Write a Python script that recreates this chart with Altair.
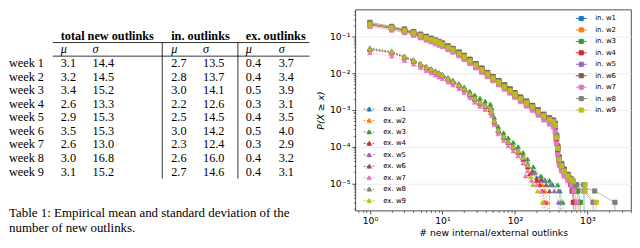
import altair as alt
import pandas as pd

# ---------------- Table 1 values ----------------
weeks = ["week 1", "week 2", "week 3", "week 4", "week 5", "week 6", "week 7", "week 8", "week 9"]
total_mu = [3.1, 3.2, 3.4, 2.6, 2.9, 3.5, 2.6, 3.0, 3.1]
total_sd = [14.4, 14.5, 15.2, 13.3, 15.3, 15.3, 13.0, 16.8, 15.2]
in_mu = [2.7, 2.8, 3.0, 2.2, 2.5, 3.0, 2.3, 2.6, 2.7]
in_sd = [13.5, 13.7, 14.1, 12.6, 14.5, 14.2, 12.4, 16.0, 14.6]
ex_mu = [0.4, 0.4, 0.5, 0.3, 0.4, 0.5, 0.3, 0.4, 0.4]
ex_sd = [3.7, 3.4, 3.9, 3.1, 3.5, 4.0, 2.9, 3.2, 3.1]
group_headers = ["total new outlinks", "in. outlinks", "ex. outlinks"]
caption = ["Table 1: Empirical mean and standard deviation of the",
           "number of new outlinks."]

# ---------------- CCDF curves (log10 of P(X >= x)) ----------------
week_keys = ["w1", "w2", "w3", "w4", "w5", "w6", "w7", "w8", "w9"]
in_x = [1, 2, 3, 4, 5, 6, 7, 8, 9, 10, 12, 14, 17, 20, 24, 29, 35, 42, 50, 60, 72, 86, 100,
        120, 145, 175, 210, 250, 300, 340, 360, 375, 390, 410, 440, 480, 540]
in_log10p = {
    "w1": [-0.65, -0.75, -0.83, -0.90, -0.96, -1.02, -1.07, -1.12, -1.16, -1.20, -1.28, -1.35, -1.45, -1.55, -1.65, -1.77, -1.89, -2.01, -2.12, -2.23, -2.35, -2.46, -2.56, -2.68, -2.79, -2.91, -3.03, -3.15, -3.25, -3.31, -3.40, -3.72, -4.02, -4.32, -4.50, -4.66, -4.80],
    "w2": [-0.66, -0.77, -0.84, -0.91, -0.98, -1.04, -1.09, -1.13, -1.17, -1.22, -1.30, -1.37, -1.47, -1.56, -1.67, -1.79, -1.91, -2.03, -2.14, -2.25, -2.37, -2.48, -2.58, -2.70, -2.81, -2.93, -3.05, -3.17, -3.27, -3.33, -3.44, -3.78, -4.08, -4.38, -4.55, -4.70, -4.82],
    "w3": [-0.66, -0.76, -0.82, -0.89, -0.96, -1.02, -1.07, -1.11, -1.15, -1.19, -1.27, -1.34, -1.43, -1.52, -1.62, -1.74, -1.86, -1.98, -2.09, -2.20, -2.32, -2.43, -2.53, -2.65, -2.76, -2.88, -3.00, -3.12, -3.22, -3.28, -3.38, -3.70, -4.00, -4.30, -4.48, -4.62, -4.76],
    "w4": [-0.68, -0.78, -0.85, -0.92, -0.99, -1.05, -1.10, -1.15, -1.19, -1.24, -1.32, -1.39, -1.49, -1.59, -1.70, -1.82, -1.94, -2.06, -2.17, -2.28, -2.40, -2.51, -2.61, -2.73, -2.84, -2.96, -3.08, -3.20, -3.30, -3.36, -3.48, -3.82, -4.12, -4.40, -4.58, -4.72, -4.85],
    "w5": [-0.66, -0.76, -0.84, -0.91, -0.97, -1.04, -1.09, -1.13, -1.17, -1.21, -1.30, -1.37, -1.46, -1.56, -1.67, -1.79, -1.91, -2.03, -2.14, -2.25, -2.37, -2.48, -2.58, -2.70, -2.81, -2.93, -3.05, -3.17, -3.27, -3.33, -3.43, -3.76, -4.06, -4.36, -4.53, -4.68, -4.81],
    "w6": [-0.61, -0.72, -0.79, -0.86, -0.93, -0.99, -1.04, -1.09, -1.13, -1.17, -1.25, -1.32, -1.42, -1.51, -1.62, -1.74, -1.86, -1.98, -2.09, -2.20, -2.32, -2.43, -2.53, -2.65, -2.76, -2.88, -3.00, -3.12, -3.22, -3.28, -3.37, -3.68, -3.98, -4.28, -4.46, -4.62, -4.76],
    "w7": [-0.72, -0.82, -0.89, -0.96, -1.03, -1.09, -1.14, -1.19, -1.23, -1.27, -1.35, -1.42, -1.52, -1.62, -1.73, -1.85, -1.97, -2.09, -2.20, -2.31, -2.43, -2.54, -2.65, -2.77, -2.89, -3.01, -3.14, -3.27, -3.38, -3.46, -3.60, -3.92, -4.22, -4.50, -4.66, -4.80, -4.92],
    "w8": [-0.65, -0.75, -0.82, -0.89, -0.96, -1.02, -1.07, -1.11, -1.15, -1.20, -1.28, -1.35, -1.45, -1.54, -1.65, -1.77, -1.89, -2.01, -2.12, -2.23, -2.35, -2.46, -2.56, -2.68, -2.79, -2.91, -3.03, -3.15, -3.25, -3.31, -3.41, -3.73, -4.03, -4.33, -4.50, -4.65, -4.78],
    "w9": [-0.66, -0.76, -0.83, -0.90, -0.97, -1.03, -1.08, -1.12, -1.16, -1.21, -1.29, -1.36, -1.46, -1.55, -1.66, -1.78, -1.90, -2.02, -2.13, -2.24, -2.36, -2.47, -2.57, -2.69, -2.80, -2.92, -3.04, -3.16, -3.26, -3.32, -3.42, -3.75, -4.05, -4.35, -4.52, -4.67, -4.80],
}
# sparse tails (x, log10 P); -9 marks the final drop to zero (off the bottom of the axis)
in_tail = {
    "w1": [(620, -4.92), (700, -5.04), (900, -5.04), (900, -9)],
    "w2": [(600, -4.92), (640, -5.04), (700, -5.21), (760, -5.52), (760, -9)],
    "w3": [(600, -4.88), (680, -5.04), (740, -5.21), (800, -5.52), (800, -9)],
    "w4": [(580, -4.95), (600, -5.04), (620, -5.21), (640, -5.52), (640, -9)],
    "w5": [(620, -4.92), (700, -5.04), (900, -5.21), (1200, -5.52), (1200, -9)],
    "w6": [(560, -4.85), (590, -5.04), (620, -5.21), (680, -5.52), (680, -9)],
    "w7": [(600, -5.04), (650, -5.21), (720, -5.52), (720, -9)],
    "w8": [(600, -4.90), (640, -4.95), (700, -5.04), (1260, -5.21), (2400, -5.52), (2400, -9)],
    "w9": [(600, -4.90), (640, -4.95), (930, -5.04), (930, -5.21), (1320, -5.52), (1320, -9)],
}
ex_x = [1, 2, 3, 4, 5, 6, 7, 8, 9, 10, 12, 14, 17, 20, 24, 28, 33, 39, 46, 48, 52, 59, 70, 81,
        95, 111, 130, 150]
ex_log10p = {
    "w1": [-1.33, -1.42, -1.55, -1.65, -1.75, -1.83, -1.89, -1.95, -2.00, -2.05, -2.14, -2.22, -2.32, -2.42, -2.56, -2.68, -2.79, -2.88, -2.96, -3.05, -3.30, -3.55, -3.72, -3.87, -4.00, -4.12, -4.30, -4.50],
    "w2": [-1.34, -1.43, -1.56, -1.66, -1.76, -1.84, -1.90, -1.96, -2.01, -2.06, -2.15, -2.23, -2.33, -2.43, -2.57, -2.69, -2.80, -2.89, -2.97, -3.06, -3.31, -3.56, -3.73, -3.88, -4.01, -4.13, -4.31, -4.52],
    "w3": [-1.33, -1.42, -1.54, -1.64, -1.74, -1.82, -1.88, -1.94, -1.99, -2.04, -2.12, -2.19, -2.28, -2.37, -2.49, -2.59, -2.68, -2.76, -2.84, -2.95, -3.20, -3.45, -3.62, -3.76, -3.88, -4.00, -4.16, -4.34],
    "w4": [-1.36, -1.45, -1.58, -1.68, -1.78, -1.86, -1.92, -1.98, -2.03, -2.08, -2.17, -2.25, -2.35, -2.46, -2.60, -2.72, -2.83, -2.92, -3.00, -3.09, -3.34, -3.58, -3.75, -3.90, -4.03, -4.16, -4.35, -4.56],
    "w5": [-1.34, -1.43, -1.56, -1.66, -1.76, -1.84, -1.90, -1.96, -2.01, -2.06, -2.15, -2.23, -2.33, -2.43, -2.57, -2.69, -2.80, -2.89, -2.97, -3.06, -3.31, -3.56, -3.73, -3.88, -4.01, -4.13, -4.31, -4.51],
    "w6": [-1.31, -1.40, -1.53, -1.63, -1.73, -1.81, -1.87, -1.93, -1.98, -2.03, -2.12, -2.20, -2.30, -2.40, -2.54, -2.66, -2.77, -2.86, -2.94, -3.03, -3.28, -3.53, -3.70, -3.85, -3.98, -4.10, -4.27, -4.46],
    "w7": [-1.44, -1.53, -1.65, -1.75, -1.85, -1.93, -1.99, -2.05, -2.10, -2.15, -2.24, -2.32, -2.42, -2.53, -2.67, -2.79, -2.90, -2.99, -3.07, -3.16, -3.40, -3.65, -3.83, -3.98, -4.12, -4.25, -4.45, -4.66],
    "w8": [-1.32, -1.41, -1.54, -1.64, -1.74, -1.82, -1.88, -1.94, -1.99, -2.04, -2.13, -2.21, -2.31, -2.41, -2.55, -2.67, -2.78, -2.87, -2.95, -3.04, -3.29, -3.54, -3.71, -3.86, -3.99, -4.11, -4.29, -4.48],
    "w9": [-1.33, -1.42, -1.55, -1.65, -1.75, -1.83, -1.89, -1.95, -2.00, -2.05, -2.14, -2.22, -2.32, -2.42, -2.56, -2.68, -2.79, -2.88, -2.96, -3.05, -3.30, -3.55, -3.72, -3.87, -4.00, -4.12, -4.30, -4.50],
}
ex_tail = {
    "w1": [(175, -4.70), (200, -4.85), (260, -4.92), (330, -5.04), (420, -5.21), (420, -9)],
    "w2": [(170, -4.72), (210, -4.92), (240, -5.04), (260, -5.21), (280, -5.52), (280, -9)],
    "w3": [(180, -4.55), (230, -4.80), (300, -4.92), (390, -5.04), (460, -5.52), (460, -9)],
    "w4": [(160, -4.75), (200, -4.92), (220, -5.04), (240, -5.21), (260, -5.52), (260, -9)],
    "w5": [(180, -4.72), (240, -4.92), (310, -5.04), (350, -5.21), (400, -5.52), (400, -9)],
    "w6": [(175, -4.66), (230, -4.90), (270, -5.04), (300, -5.21), (300, -9)],
    "w7": [(140, -4.80), (170, -4.92), (200, -5.04), (230, -5.21), (250, -5.52), (250, -9)],
    "w8": [(190, -4.70), (260, -4.92), (310, -5.04), (400, -5.21), (430, -5.52), (430, -9)],
    "w9": [(165, -4.82), (177, -5.04), (206, -5.21), (240, -5.52), (240, -9)],
}
series_colors = ["#1f77b4", "#ff7f0e", "#2ca02c", "#d62728", "#9467bd",
                 "#8c564b", "#e377c2", "#7f7f7f", "#bcbd22"]

x_tick_values = [1, 10, 100, 1000]
x_tick_labels = ["10⁰", "10¹", "10²", "10³"]
y_tick_values = [1e-5, 1e-4, 1e-3, 1e-2, 1e-1]
y_tick_labels = ["10⁻⁵", "10⁻⁴", "10⁻³", "10⁻²", "10⁻¹"]

# ---------------- build tables for the library ----------------
def curves(prefix, xs, logs, tails):
    recs = []
    for k in week_keys:
        pts = list(zip(xs, logs[k])) + tails[k]
        for i, (x, e) in enumerate(pts):
            recs.append({"series": f"{prefix}. {k}", "x": x, "p": 10.0 ** e, "idx": i})
    return pd.DataFrame(recs)

in_df = curves("in", in_x, in_log10p, in_tail)
ex_df = curves("ex", ex_x, ex_log10p, ex_tail)
in_domain = [f"in. {k}" for k in week_keys]
ex_domain = [f"ex. {k}" for k in week_keys]

def label_expr(vals, labels):
    return " : ".join(f"datum.value == {v!r} ? '{l}'" for v, l in zip(vals, labels)) + " : ''"

x_minor = [v * m for v in [0.1, 1, 10, 100, 1000] for m in range(2, 10) if 0.63 <= v * m <= 4000]
y_minor = [v * m for v in [1e-6, 1e-5, 1e-4, 1e-3, 1e-2, 1e-1] for m in range(2, 10) if 1.8e-6 <= v * m <= 0.55]

xscale = alt.Scale(type="log", domain=[0.63, 4000], nice=False)
yscale = alt.Scale(type="log", domain=[1.8e-6, 0.55], nice=False)
FONT = "DejaVu Sans"
common_axis = dict(domain=False, tickColor="#222", tickWidth=0.8, labelFont=FONT, labelFontSize=9.3,
                   labelColor="black", titleFont=FONT, titleFontSize=9.3, titleFontWeight="normal",
                   titleColor="black", labelFlush=False, labelOverlap=False)
x_major = alt.Axis(values=x_tick_values, labelExpr=label_expr(x_tick_values, x_tick_labels),
                   title="# new internal/external outlinks", grid=False, tickSize=3.5,
                   labelPadding=2, titlePadding=3, orient="bottom", **common_axis)
y_major = alt.Axis(values=y_tick_values, labelExpr=label_expr(y_tick_values, y_tick_labels),
                   title="P(X ≥ x)", titleFontStyle="italic", grid=True, gridColor="#e6e6e6",
                   gridWidth=0.8, tickSize=3.5, labelPadding=2, titlePadding=4, orient="left",
                   **common_axis)
x_minor_ax = alt.Axis(values=x_minor, labels=False, tickSize=2, grid=False, domain=False,
                      tickColor="#222", tickWidth=0.6, title=None, orient="bottom")
y_minor_ax = alt.Axis(values=y_minor, labels=False, tickSize=2, grid=False, domain=False,
                      tickColor="#222", tickWidth=0.6, title=None, orient="left")

in_scale = alt.Scale(domain=in_domain, range=series_colors)
ex_scale = alt.Scale(domain=ex_domain, range=series_colors)

def legend(path, lx, ly, dash=None):
    kw = dict(orient="none", legendX=lx, legendY=ly, title=None, symbolType=path, symbolSize=121,
              symbolStrokeWidth=1, labelFont=FONT, labelFontSize=7, labelColor="black",
              rowPadding=0.5, padding=0, labelOffset=8)
    if dash:
        kw["symbolDash"] = dash
    return alt.Legend(**kw)

in_leg = legend("M-1,0H1M-0.38,-0.38H0.38V0.38H-0.38Z", 221, 3)
ex_leg = legend("M-1,0H1M-0.44,0.38L0,-0.44L0.44,0.38Z", 8, 94, [1.5, 1.5])

MS = 20
in_line = alt.Chart(in_df).mark_line(strokeWidth=1, opacity=0.55, clip=True).encode(
    x=alt.X("x:Q", scale=xscale, axis=x_minor_ax),
    y=alt.Y("p:Q", scale=yscale, axis=y_minor_ax),
    stroke=alt.Stroke("series:N", scale=in_scale, legend=None),
    order="idx:Q")
in_pts = alt.Chart(in_df).mark_point(shape="square", filled=True, size=MS, strokeWidth=0.7,
                                     opacity=1, clip=True).encode(
    x=alt.X("x:Q", scale=xscale, axis=x_major),
    y=alt.Y("p:Q", scale=yscale, axis=y_major),
    fill=alt.Fill("series:N", scale=in_scale, legend=in_leg),
    stroke=alt.Stroke("series:N", scale=in_scale, legend=in_leg))
ex_line = alt.Chart(ex_df).mark_line(strokeWidth=1, opacity=0.55, strokeDash=[1.5, 1.5], clip=True).encode(
    x=alt.X("x:Q", scale=xscale, axis=None),
    y=alt.Y("p:Q", scale=yscale, axis=None),
    stroke=alt.Stroke("series:N", scale=ex_scale, legend=None),
    order="idx:Q")
ex_pts = alt.Chart(ex_df).mark_point(shape="triangle-up", filled=True, size=MS, strokeWidth=0.7,
                                     opacity=1, clip=True).encode(
    x=alt.X("x:Q", scale=xscale, axis=None),
    y=alt.Y("p:Q", scale=yscale, axis=None),
    fill=alt.Fill("series:N", scale=ex_scale, legend=ex_leg),
    stroke=alt.Stroke("series:N", scale=ex_scale, legend=ex_leg))

plot = alt.layer(in_line, in_pts, ex_line, ex_pts).resolve_scale(
    stroke="independent", fill="independent").resolve_axis(
    x="independent", y="independent").properties(
    width=277, height=202, view=alt.ViewBackground(stroke="#222", strokeWidth=0.8))

# ---------------- table as text marks ----------------
TABLE_COLS = {"label": 0, "tot_mu": 52, "tot_sd": 84, "in_mu": 163, "in_sd": 195,
              "ex_mu": 238, "ex_sd": 271}
HLINE_X = (44, 302)
VLINE_X = [154, 230]
ROW_TOP, ROW_H = 19.5, 13.66
row_keys = ["hdr", "sub"] + weeks

cells = []
for h, c in zip(group_headers, ["tot_mu", "in_mu", "ex_mu"]):
    cells.append({"text": h, "cx": TABLE_COLS[c], "ri": 0, "kind": "hdr"})
for c in ["tot", "in", "ex"]:
    cells.append({"text": "μ", "cx": TABLE_COLS[c + "_mu"], "ri": 1, "kind": "sub"})
    cells.append({"text": "σ", "cx": TABLE_COLS[c + "_sd"], "ri": 1, "kind": "sub"})
for i, w in enumerate(weeks):
    r = row_keys.index(w)
    cells.append({"text": w, "cx": TABLE_COLS["label"], "ri": r, "kind": "body"})
    for c, vals in [("tot_mu", total_mu), ("tot_sd", total_sd), ("in_mu", in_mu),
                    ("in_sd", in_sd), ("ex_mu", ex_mu), ("ex_sd", ex_sd)]:
        cells.append({"text": f"{vals[i]:.1f}", "cx": TABLE_COLS[c], "ri": r, "kind": "body"})
cells_df = pd.DataFrame(cells)

rules_df = pd.DataFrame(
    [{"x": HLINE_X[0], "x2": HLINE_X[1], "y": r - 0.5, "y2": r - 0.5} for r in [1, 2]] +
    [{"x": vx, "x2": vx, "y": 0.5, "y2": len(row_keys) - 0.5} for vx in VLINE_X])

TW = 305
tx = alt.Scale(domain=[0, TW], range=[0, TW])
ty = alt.Scale(domain=[-0.5, len(row_keys) - 0.5], range=[ROW_TOP, ROW_TOP + ROW_H * len(row_keys)])
SERIF = "Liberation Serif"

def text_layer(kind, **kw):
    return alt.Chart(cells_df).transform_filter(alt.datum.kind == kind).mark_text(
        align="left", baseline="middle", font=SERIF, fontSize=12.3, color="black", **kw).encode(
        x=alt.X("cx:Q", scale=tx, axis=None), y=alt.Y("ri:Q", scale=ty, axis=None), text="text:N")

rules = alt.Chart(rules_df).mark_rule(color="black", strokeWidth=0.8).encode(
    x=alt.X("x:Q", scale=tx, axis=None), x2="x2:Q",
    y=alt.Y("y:Q", scale=ty, axis=None), y2="y2:Q")

table = alt.layer(text_layer("hdr", fontWeight="bold"), text_layer("sub", fontStyle="italic"),
                  text_layer("body"), rules).properties(
    width=TW, height=172, view=alt.ViewBackground(stroke="transparent"),
    title=alt.TitleParams(text=caption, orient="bottom", anchor="start", font=SERIF, fontSize=13,
                          fontWeight="normal", color="black", offset=26, lineHeight=16))

chart = alt.hconcat(table, plot, spacing=2).configure(padding=0)
chart.save("out.html", embed_options={"renderer": "svg", "actions": False})
